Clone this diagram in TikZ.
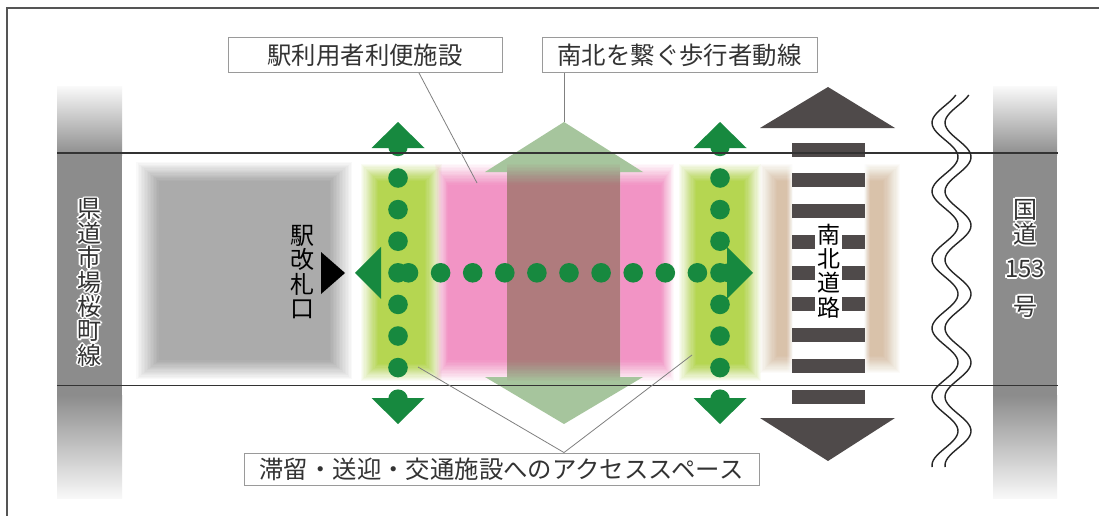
\documentclass[tikz,border=0pt]{standalone}
\usepackage{fontspec}
\setmainfont{Noto Sans CJK JP}
\definecolor{roadgray}{HTML}{8C8C8C}
\definecolor{blockgray}{HTML}{ABABAB}
\definecolor{bandgreen}{HTML}{B5D651}
\definecolor{pinkc}{HTML}{F294C5}
\definecolor{mauve}{HTML}{AF7B7D}
\definecolor{sage}{HTML}{A6C59D}
\definecolor{tanc}{HTML}{D9C2AA}
\definecolor{barc}{HTML}{4F4A4A}
\definecolor{dotg}{HTML}{17893F}
\definecolor{linec}{HTML}{333333}
\definecolor{boxgray}{HTML}{9A9A9A}
\definecolor{txt}{HTML}{333333}
\definecolor{framec}{HTML}{555555}
\newcommand\softbox[7]{%
  \foreach \i in {0,...,15}{%
    \pgfmathsetmacro\op{1/(16-\i)}%
    \fill[#1, fill opacity=\op] ({#2+\i*#6/16},{#3+\i*#7/16}) rectangle ({#4-\i*#6/16},{#5-\i*#7/16});
  }}
\newcommand\halonode[4]{%
  \foreach \a in {0,45,...,315}{\node[#3, text=white] at ([shift={(\a:1.6pt)}]#2) {#4};}
  \node[#3] (#1) at (#2) {#4};}
\tikzset{
  lbl/.style={draw=boxgray, fill=white, line width=0.9pt, text=txt, inner sep=0pt,
    font=\fontsize{24.4}{26}\selectfont},
  conn/.style={draw=gray, line width=0.8pt},
  vtext/.style={align=center, inner sep=0pt, font=\fontsize{24}{24.4}\selectfont},
  roadtxt/.style={vtext, text=black!80},
  dotf/.style={fill=dotg},
}
\begin{document}
\begin{tikzpicture}[x=1pt,y=-1pt]
\useasboundingbox (0,0) rectangle (1099,516);
\fill[white] (0,0) rectangle (1099,516);
% frame
\draw[framec, line width=1.2pt] (7,516) -- (7,8) -- (1099,8);
% road strips
\foreach \xa/\xb in {57/122, 993/1057}{
  \shade[top color=roadgray!6, bottom color=roadgray] (\xa,87) rectangle (\xb,155.5);
  \fill[roadgray] (\xa,155) rectangle (\xb,395.5);
  \shade[top color=roadgray, bottom color=roadgray!6] (\xa,395) rectangle (\xb,498);
}
% station block
\softbox{blockgray}{136}{162}{352}{379}{24}{20}
% bands
\softbox{bandgreen}{361}{164}{442}{381}{18}{18}
\softbox{bandgreen}{679}{164}{761}{381}{18}{18}
\softbox{pinkc}{435}{164}{674}{381}{14}{22}
\softbox{tanc}{760}{164}{900}{373}{18}{18}
% big sage double arrow
\fill[sage] (564,122) -- (643,172) -- (620,172) -- (620,377) -- (643,377) -- (564,424)
  -- (485,377) -- (507,377) -- (507,172) -- (485,172) -- cycle;
\coordinate (bigtop) at (564,122);
\softbox{mauve}{507}{164}{620}{381}{0}{22}
% crosswalk
\softbox{white}{787}{150}{870}{380}{6}{0}
\foreach \k in {0,...,8}{
  \fill[barc] (792,{142.5+30.95*\k}) rectangle (865,{156.5+30.95*\k});
}
\node[vtext, fill=white, inner xsep=2pt, inner ysep=1pt, font=\fontsize{23}{24.2}\selectfont, text=black] (nanboku) at (828.5,271) {南\\北\\道\\路};
% dark triangles
\fill[barc] (828,87) -- (895,128) -- (760,128) -- cycle;
\fill[barc] (760,418) -- (895,418) -- (828,461) -- cycle;
% station text and triangle
\node[vtext, text=black] (kaisatsu) at (302,272) {駅\\改\\札\\口};
\fill[black] (321,252) -- (345,273) -- (321,294) -- cycle;
% green dotted columns
\foreach \cx in {398,720}{
  \foreach \k in {0,...,8}{\fill[dotf] (\cx,{146.4+31.6*\k}) circle (9.8pt);}
  \fill[dotf] (\cx,122) -- ({\cx+26.5},148) -- ({\cx-26.5},148) -- cycle;
  \fill[dotf] ({\cx-26.5},398) -- ({\cx+26.5},398) -- (\cx,424) -- cycle;
}
% green dotted row
\foreach \k in {0,...,10}{\fill[dotf] ({408.5+32.1*\k},272.8) circle (9.8pt);}
\fill[dotf] (355,272.8) -- (381,246.8) -- (381,298.8) -- cycle;
\fill[dotf] (753,272.8) -- (727,246.8) -- (727,298.8) -- cycle;
% road lines
\draw[linec, line width=1.5pt] (57,153) -- (1058,153);
\draw[linec, line width=1.5pt] (57,385.5) -- (1058,385.5);
% break symbol (wavy lines)
\draw[black!85, line width=1.4pt] plot[domain=95:467, samples=160, variable=\t] ({945+13*cos((\t-157)*5.2555)}, \t);
\draw[black!85, line width=1.4pt] plot[domain=95:467, samples=160, variable=\t] ({958+13*cos((\t-157)*5.2555)}, \t);
% road names
\halonode{kendo}{89.5,282.5}{roadtxt}{県\\道\\市\\場\\桜\\町\\線}
\halonode{kokudo}{1025,258.5}{roadtxt, font=\fontsize{24}{25}\selectfont}{国\\道\\[9pt]153\\[13pt]号}
% labels
\node[lbl, minimum width=274, minimum height=35] (b1) at (365,55) {駅利用者利便施設};
\node[lbl, minimum width=275, minimum height=35] (b2) at (679.5,55) {南北を繋ぐ歩行者動線};
\node[lbl, minimum width=515, minimum height=32] (b3) at (501.5,469) {滞留・送迎・交通施設へのアクセススペース};
% connectors
\coordinate (p1) at (477,183);
\coordinate (p3a) at (418,367);
\coordinate (p3b) at (692,355);
\draw[conn] ([xshift=54pt]b1.south) -- (p1);
\draw[conn] ([xshift=-115.5pt]b2.south) -- (bigtop);
\draw[conn] (p3a) -- ([xshift=62.5pt]b3.north) -- (p3b);
\end{tikzpicture}
\end{document}
